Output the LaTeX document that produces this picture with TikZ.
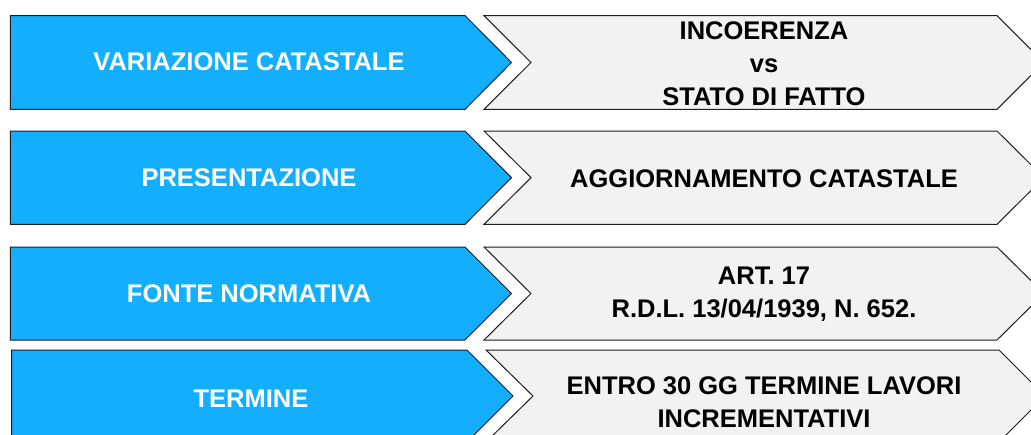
\documentclass[tikz,border=0pt]{standalone}
\usepackage{fontspec}
\setmainfont{Liberation Sans}
\definecolor{chevblue}{RGB}{19,175,254}
\definecolor{chevgray}{RGB}{242,242,242}
\definecolor{edge}{RGB}{30,30,30}
\tikzset{
  bluechev/.style={fill=chevblue, draw=edge, line width=1pt, line join=miter},
  graychev/.style={fill=chevgray, draw=edge, line width=1pt, line join=miter},
  bluelabel/.style={text=white, font=\bfseries\fontsize{25.5}{33}\selectfont, align=center, inner sep=0pt},
  graylabel/.style={text=black, font=\bfseries\fontsize{25.5}{33}\selectfont, align=center, inner sep=0pt},
}
\newcommand{\chevrow}[9]{%
  % #1 top, #2 bottom, #3 blue left, #4 blue shoulder, #5 blue tip,
  % #6 gray left, #7 gray notch, #8 gray shoulder, #9 gray tip
  \path[bluechev] (#3,#1) -- (#4,#1) -- (#5,{(#1+#2)/2}) -- (#4,#2) -- (#3,#2) -- cycle;
  \path[graychev] (#6,#1) -- (#8,#1) -- (#9,{(#1+#2)/2}) -- (#8,#2) -- (#6,#2) -- (#7,{(#1+#2)/2}) -- cycle;
}
\begin{document}
\begin{tikzpicture}[x=1pt,y=-1pt]
\useasboundingbox (0,0) rectangle (1031,434);
\clip (0,0) rectangle (1031,434);
\fill[white] (0,0) rectangle (1031,434);
\chevrow{15.7}{109.3}{10.3}{465}{511.5}{484}{531}{997}{1044}
\chevrow{131}{224.3}{10.3}{465}{511.5}{484}{531}{997}{1044}
\chevrow{247}{340}{10.3}{465}{511.5}{484}{531}{997}{1044}
\chevrow{350}{442}{11.5}{467}{513}{486}{533}{999}{1045}

\node[bluelabel] (b1) at (249,62) {VARIAZIONE CATASTALE};
\node[bluelabel] (b2) at (249,178) {PRESENTAZIONE};
\node[bluelabel] (b3) at (249,294) {FONTE NORMATIVA};
\node[bluelabel] (b4) at (251,399) {TERMINE};

\node[graylabel] (g1) at (764,64) {INCOERENZA\\vs\\STATO DI FATTO};
\node[graylabel] (g2) at (764,179) {AGGIORNAMENTO CATASTALE};
\node[graylabel] (g3) at (764,294) {ART. 17\\R.D.L. 13/04/1939, N. 652.};
\node[graylabel] (g4) at (764,402) {ENTRO 30 GG TERMINE LAVORI\\INCREMENTATIVI};
\end{tikzpicture}
\end{document}
